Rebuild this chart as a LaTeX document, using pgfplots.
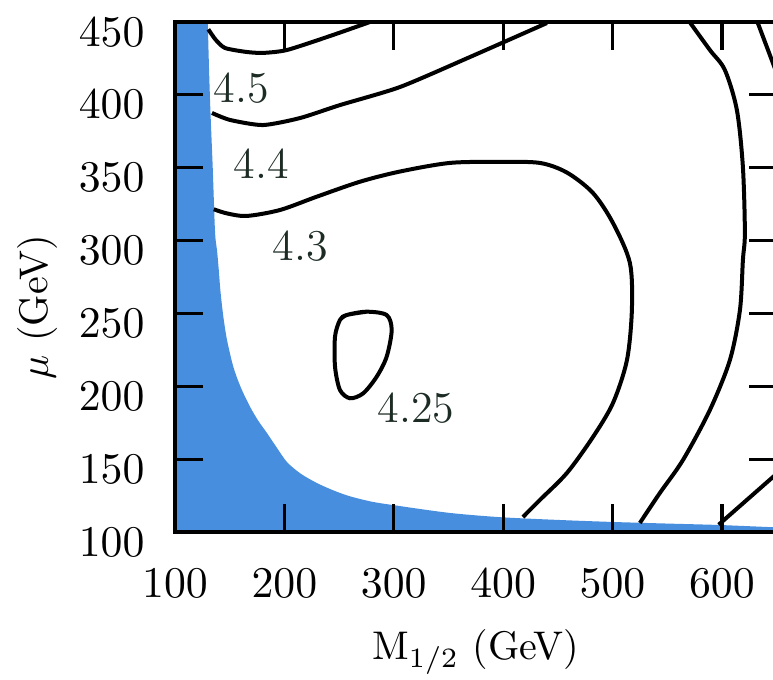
\documentclass[border=0pt]{standalone}
\usepackage{pgfplots}
\pgfplotsset{compat=1.18}

\definecolor{excl}{RGB}{72,142,222}
\definecolor{lab}{RGB}{28,44,36}

\begin{document}
\begin{tikzpicture}
% frame of the figure (right part of the axis box lies outside)
\path[use as bounding box, clip] (-43.75pt,-36.75pt) rectangle (149.5pt,133pt);
\begin{axis}[
  at={(0,0)}, anchor=south west,
  scale only axis,
  width=150.4pt, height=127.5pt,
  xmin=100, xmax=650, ymin=100, ymax=450,
  xtick={100,200,...,600},
  ytick={100,150,...,450},
  xtick pos=both, ytick pos=both,
  tick align=inside,
  major tick length=7pt,
  axis line style={line width=0.8pt},
  every tick/.style={black, line width=0.8pt},
  axis on top,
  tick label style={font=\fontsize{11}{13}\selectfont},
  xticklabel style={yshift=-5.8pt},
  yticklabel style={xshift=-4.1pt, yshift=-2.5pt},
  label style={font=\fontsize{11}{13}\selectfont},
  xlabel={M$_{1/2}$ (GeV)},
  ylabel={$\mu$ (GeV)},
  every axis x label/.style={at={(axis description cs:0.5,0)}, anchor=center, yshift=-30pt},
  every axis y label/.style={at={(axis description cs:0,0.441)}, xshift=-34.25pt, anchor=center, rotate=90},
]

% excluded region (outer corners lie outside the frame)
\addplot[fill=excl, draw=none, smooth, tension=0.5] coordinates {
  (60,60) (60,520) (128.5,520) (130,450) (132,397) (134.5,350) (136.6,306)
  (138.4,293.5) (140,280) (141.6,265) (144.2,247.8) (147.5,232) (153.3,213.5)
  (160,199.5) (168.6,186) (176,176.5) (184,168) (193,158) (202.4,148)
  (215,140) (229.8,133.6) (245,128.5) (260,124.5) (280,120.8)
  (299.3,118.5) (350,113.2) (397,110.2) (450,108.3)
  (500,106.9) (550,105.8) (598,104.8) (650,103.2) (700,102) (700,60)
} -- cycle;

% contour lines
\addplot[black, line width=1pt, smooth, tension=0.4] coordinates {
  (130.5,445) (137,438) (145.7,432.2) (165,429.5) (180.4,428.8)
  (202.4,430.8) (241.7,440.4) (278.2,450)
};
\addplot[black, line width=1pt, smooth, tension=0.4] coordinates {
  (133.8,387.6) (150.3,382.8) (180.4,379.3) (214.3,384.1) (250.8,393)
  (305.7,405.4) (369.7,426) (440,449.3)
};
\addplot[black, line width=1pt, smooth] coordinates {
  (135.5,321.5) (147.3,318.7) (165.5,316.9) (196,321) (229.5,330.1)
  (269.1,340.4) (305.7,347.4) (351.4,353.3) (397.1,354) (433.6,353.3)
  (458.3,346.7) (482.1,332.7) (500.4,312.1) (515.9,284.6) (517.7,252.4)
  (513.2,218) (500.4,188.5) (482.1,165.2) (458.3,140.5) (433.6,122)
  (418.1,110.3)
};
\addplot[black, line width=1pt, smooth] coordinates {
  (570.5,450) (589,430.8) (602.7,417.1) (613.7,389.6) (619.2,350.5)
  (621,305.2) (619.2,286.7) (616.5,252.4) (607.3,218) (589,183.7)
  (564.4,149.4) (543.3,126.8) (525,106.2)
};
\addplot[black, line width=1pt] coordinates {
  (632.5,450) (646.6,421.9) (655,405)
};
\addplot[black, line width=1pt] coordinates {
  (597,105) (646.6,137.7) (655,143)
};
% closed contour around the minimum
\addplot[black, line width=1pt, smooth] coordinates {
  (250.8,245.5) (256.9,248.9) (275.2,251.2) (293.5,248.9) (298.1,238.6)
  (293.5,220.3) (284.4,206.6) (272.1,195.2) (260,191.8) (250.8,197.5)
  (246.3,213.5) (246.3,234.1) (250.8,245.5) (256.9,248.9) (275.2,251.2)
};

% contour levels
\node[lab, font=\fontsize{11}{13}\selectfont] at (axis cs:160.8,404.7) {4.5};
\node[lab, font=\fontsize{11}{13}\selectfont] at (axis cs:179.1,352.6) {4.4};
\node[lab, font=\fontsize{11}{13}\selectfont] at (axis cs:214.3,296.3) {4.3};
\node[lab, font=\fontsize{11}{13}\selectfont] at (axis cs:320.3,185.1) {4.25};
\end{axis}
\end{tikzpicture}
\end{document}
